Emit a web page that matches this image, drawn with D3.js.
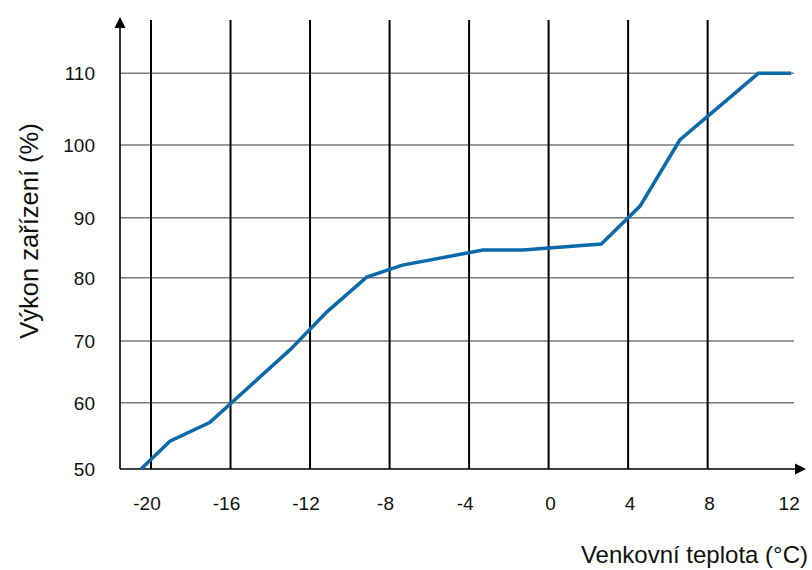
<!DOCTYPE html>
<html>
<head>
<meta charset="utf-8">
<script src="https://cdn.jsdelivr.net/npm/d3@7"></script>
<style>
    body { margin: 0; background: #fff; }
    svg { display: block; font-family: "Liberation Sans", Arial, sans-serif; }
</style>
</head>
<body>
<div id="chart"></div>
<script>
// data
var temps = [-20.5, -19.05, -17.05, -13.0, -11.15, -9.15, -7.35, -3.3, -1.3, 2.65, 4.6, 6.6, 10.55, 12.2];
var power = [50, 54.2, 57.0, 68.6, 74.6, 80.1, 82.1, 84.6, 84.6, 85.6, 91.6, 100.7, 110, 110];

var xTicks = [-20, -16, -12, -8, -4, 0, 4, 8, 12];
var xLines = [-20, -16, -12, -8, -4, 0, 4, 8];
var yTicks = [50, 60, 70, 80, 90, 100, 110];

var xTitle = "Venkovní teplota (°C)";
var yTitle = "Výkon zařízení (%)";

var width = 812, height = 570;

// the grid in the original is not evenly spaced, so y is a piecewise scale
var yStops = [469, 402.7, 341, 277.7, 217.7, 145, 73.3];

var x = d3.scaleLinear().domain([-20, 12]).range([151, 151 + 32 * 19.88]);
var y = d3.scaleLinear().domain(yTicks).range(yStops);

var axisX = 120,            // left axis position
    axisY = y(50),
    topY = 20,
    rightX = 794;

var svg = d3.select('#chart').append('svg')
    .attr('width', width)
    .attr('height', height);

// horizontal grid lines (grey)
svg.append('g').attr('class', 'hgrid')
    .selectAll('line')
    .data(yTicks.filter(d => d > 50))
    .enter().append('line')
    .attr('x1', axisX).attr('x2', rightX)
    .attr('y1', d => y(d)).attr('y2', d => y(d))
    .attr('stroke', '#7a7a7a')
    .attr('stroke-width', 1.4);

// vertical grid lines (black)
svg.append('g').attr('class', 'vgrid')
    .selectAll('line')
    .data(xLines)
    .enter().append('line')
    .attr('x1', d => x(d)).attr('x2', d => x(d))
    .attr('y1', topY).attr('y2', axisY)
    .attr('stroke', '#000')
    .attr('stroke-width', 2);

// axes with arrow heads
svg.append('line')
    .attr('x1', axisX).attr('x2', axisX)
    .attr('y1', axisY).attr('y2', 26)
    .attr('stroke', '#000').attr('stroke-width', 1.6);
svg.append('path')
    .attr('d', 'M' + axisX + ',17 L' + (axisX + 5.5) + ',28 L' + (axisX - 5.5) + ',28 Z')
    .attr('fill', '#000');

svg.append('line')
    .attr('x1', axisX).attr('x2', 796)
    .attr('y1', axisY).attr('y2', axisY)
    .attr('stroke', '#000').attr('stroke-width', 1.6);
svg.append('path')
    .attr('d', 'M806,' + axisY + ' L795,' + (axisY - 5.5) + ' L795,' + (axisY + 5.5) + ' Z')
    .attr('fill', '#000');

// tick labels
svg.append('g').attr('class', 'xlabels')
    .selectAll('text')
    .data(xTicks)
    .enter().append('text')
    .attr('x', d => x(d) + (d < 0 ? -4 : 2))
    .attr('y', 510)
    .attr('text-anchor', 'middle')
    .attr('font-size', 19)
    .attr('fill', '#111')
    .text(d => d);

svg.append('g').attr('class', 'ylabels')
    .selectAll('text')
    .data(yTicks)
    .enter().append('text')
    .attr('x', 95)
    .attr('y', d => y(d) + 7)
    .attr('text-anchor', 'end')
    .attr('font-size', 19)
    .attr('fill', '#111')
    .text(d => d);

// axis titles
svg.append('text')
    .attr('x', 808).attr('y', 563)
    .attr('text-anchor', 'end')
    .attr('font-size', 24)
    .attr('fill', '#111')
    .text(xTitle);

svg.append('text')
    .attr('transform', 'translate(38,231) rotate(-90)')
    .attr('text-anchor', 'middle')
    .attr('font-size', 25.5)
    .attr('fill', '#111')
    .text(yTitle);

// the curve
var line = d3.line()
    .x(d => x(d[0]))
    .y(d => y(d[1]));

svg.append('path')
    .datum(d3.zip(temps, power))
    .attr('d', line)
    .attr('fill', 'none')
    .attr('stroke', '#0b6aa9')
    .attr('stroke-width', 3.5)
    .attr('stroke-linejoin', 'miter');
</script>
</body>
</html>
